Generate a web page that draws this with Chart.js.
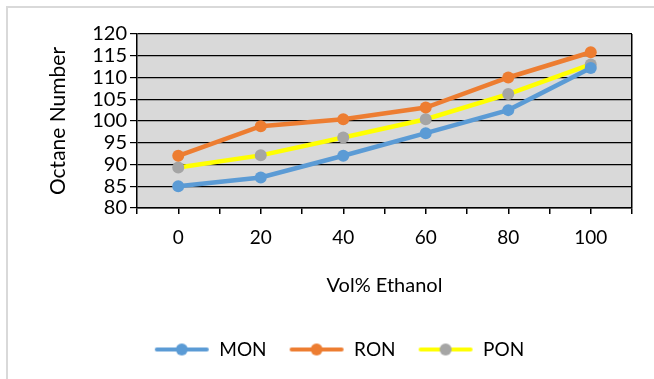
<!DOCTYPE html>
<html>
<head>
<meta charset="utf-8">
<script src="https://cdn.jsdelivr.net/npm/chart.js@4/dist/chart.umd.min.js"></script>
<style>
  html, body { margin: 0; padding: 0; background: #fff; }
  #wrap { position: relative; width: 654px; height: 379px; }
  #frame { position: absolute; left: 6px; top: 6px; right: -10px; bottom: -10px;
           border-left: 2px solid #d9d9d9; border-top: 2px solid #d9d9d9; }
  canvas { position: absolute; left: 0; top: 0; }
</style>
</head>
<body>
<div id="wrap">
  <div id="frame"></div>
  <canvas id="chart" width="654" height="379"></canvas>
</div>
<script>
// Octane number vs ethanol blend
const volEthanol = [0, 20, 40, 60, 80, 100];
const monValues = [85, 87, 92, 97.2, 102.5, 112.2];
const ronValues = [92, 98.8, 100.4, 103.1, 110, 115.8];
const ponValues = [89.3, 92.1, 96.2, 100.4, 106.2, 113];
const seriesNames = ['MON', 'RON', 'PON'];

const FONT = 'Lato, "Open Sans", sans-serif';

function toPoints(vals) {
  return vals.map((v, i) => ({ x: volEthanol[i], y: v }));
}

// legend symbol: short line with a dot in the middle
function legendIcon(lineColor, dotColor) {
  const c = document.createElement('canvas');
  c.width = 56; c.height = 14;
  const g = c.getContext('2d');
  g.strokeStyle = lineColor;
  g.lineWidth = 4;
  g.lineCap = 'round';
  g.beginPath(); g.moveTo(3, 7); g.lineTo(53, 7); g.stroke();
  g.fillStyle = dotColor;
  g.beginPath(); g.arc(28, 7, 6, 0, Math.PI * 2); g.fill();
  return c;
}

const plotBg = {
  id: 'plotBg',
  beforeDraw(chart) {
    const a = chart.chartArea, ctx = chart.ctx;
    ctx.save();
    ctx.fillStyle = '#d9d9d9';
    ctx.fillRect(a.left, a.top, a.right - a.left, a.bottom - a.top);
    ctx.restore();
  }
};

const ctx = document.getElementById('chart').getContext('2d');
new Chart(ctx, {
  type: 'line',
  data: {
    datasets: [
      { label: seriesNames[0], data: toPoints(monValues), borderColor: '#5b9bd5', backgroundColor: '#5b9bd5',
        pointBackgroundColor: '#5b9bd5', pointBorderColor: '#5b9bd5' },
      { label: seriesNames[1], data: toPoints(ronValues), borderColor: '#ed7d31', backgroundColor: '#ed7d31',
        pointBackgroundColor: '#ed7d31', pointBorderColor: '#ed7d31' },
      { label: seriesNames[2], data: toPoints(ponValues), borderColor: '#ffff00', backgroundColor: '#a5a5a5',
        pointBackgroundColor: '#a5a5a5', pointBorderColor: '#a5a5a5' }
    ]
  },
  options: {
    responsive: false,
    animation: false,
    datasets: { line: { borderWidth: 4.5, pointRadius: 6, pointBorderWidth: 0, tension: 0 } },
    layout: { padding: { left: 46, right: 22, top: 34, bottom: 10 } },
    plugins: {
      legend: {
        position: 'bottom',
        labels: {
          font: { family: FONT, size: 19 },
          color: '#000',
          usePointStyle: true,
          pointStyleWidth: 56,
          padding: 22,
          generateLabels(chart) {
            const icons = [
              legendIcon('#5b9bd5', '#5b9bd5'),
              legendIcon('#ed7d31', '#ed7d31'),
              legendIcon('#ffff00', '#a5a5a5')
            ];
            return chart.data.datasets.map((ds, i) => ({
              text: ds.label, pointStyle: icons[i], fillStyle: ds.borderColor,
              strokeStyle: ds.borderColor, lineWidth: 0, hidden: false, datasetIndex: i, fontColor: '#000'
            }));
          }
        }
      },
      tooltip: { enabled: false }
    },
    scales: {
      x: {
        type: 'linear',
        min: -10, max: 110,
        afterFit(s) { s.height = 110; },
        ticks: {
          stepSize: 10,
          padding: 12,
          color: '#000',
          font: { family: FONT, size: 19 },
          maxRotation: 0,
          autoSkip: false,
          callback: v => (v >= 0 && v <= 100 && v % 20 === 0) ? String(v) : ''
        },
        grid: {
          color: c => (c.tick && c.tick.value === 110) ? '#000' : 'rgba(0,0,0,0)',
          tickColor: '#000',
          tickLength: 6,
          lineWidth: 1.5
        },
        border: { color: '#000', width: 1.5 },
        title: { display: true, text: 'Vol% Ethanol', color: '#000', font: { family: FONT, size: 20 }, padding: { top: 10, bottom: 20 } }
      },
      y: {
        min: 80, max: 120,
        afterFit(s) { s.width = 91; },
        ticks: { stepSize: 5, autoSkip: false, color: '#000', font: { family: FONT, size: 20 }, padding: 3 },
        grid: { color: '#000', tickColor: '#000', tickLength: 7, lineWidth: 1.2 },
        border: { color: '#000', width: 1.5 },
        title: { display: true, text: 'Octane Number', color: '#000', font: { family: FONT, size: 21 }, padding: 0 }
      }
    }
  },
  plugins: [plotBg]
});
</script>
</body>
</html>
